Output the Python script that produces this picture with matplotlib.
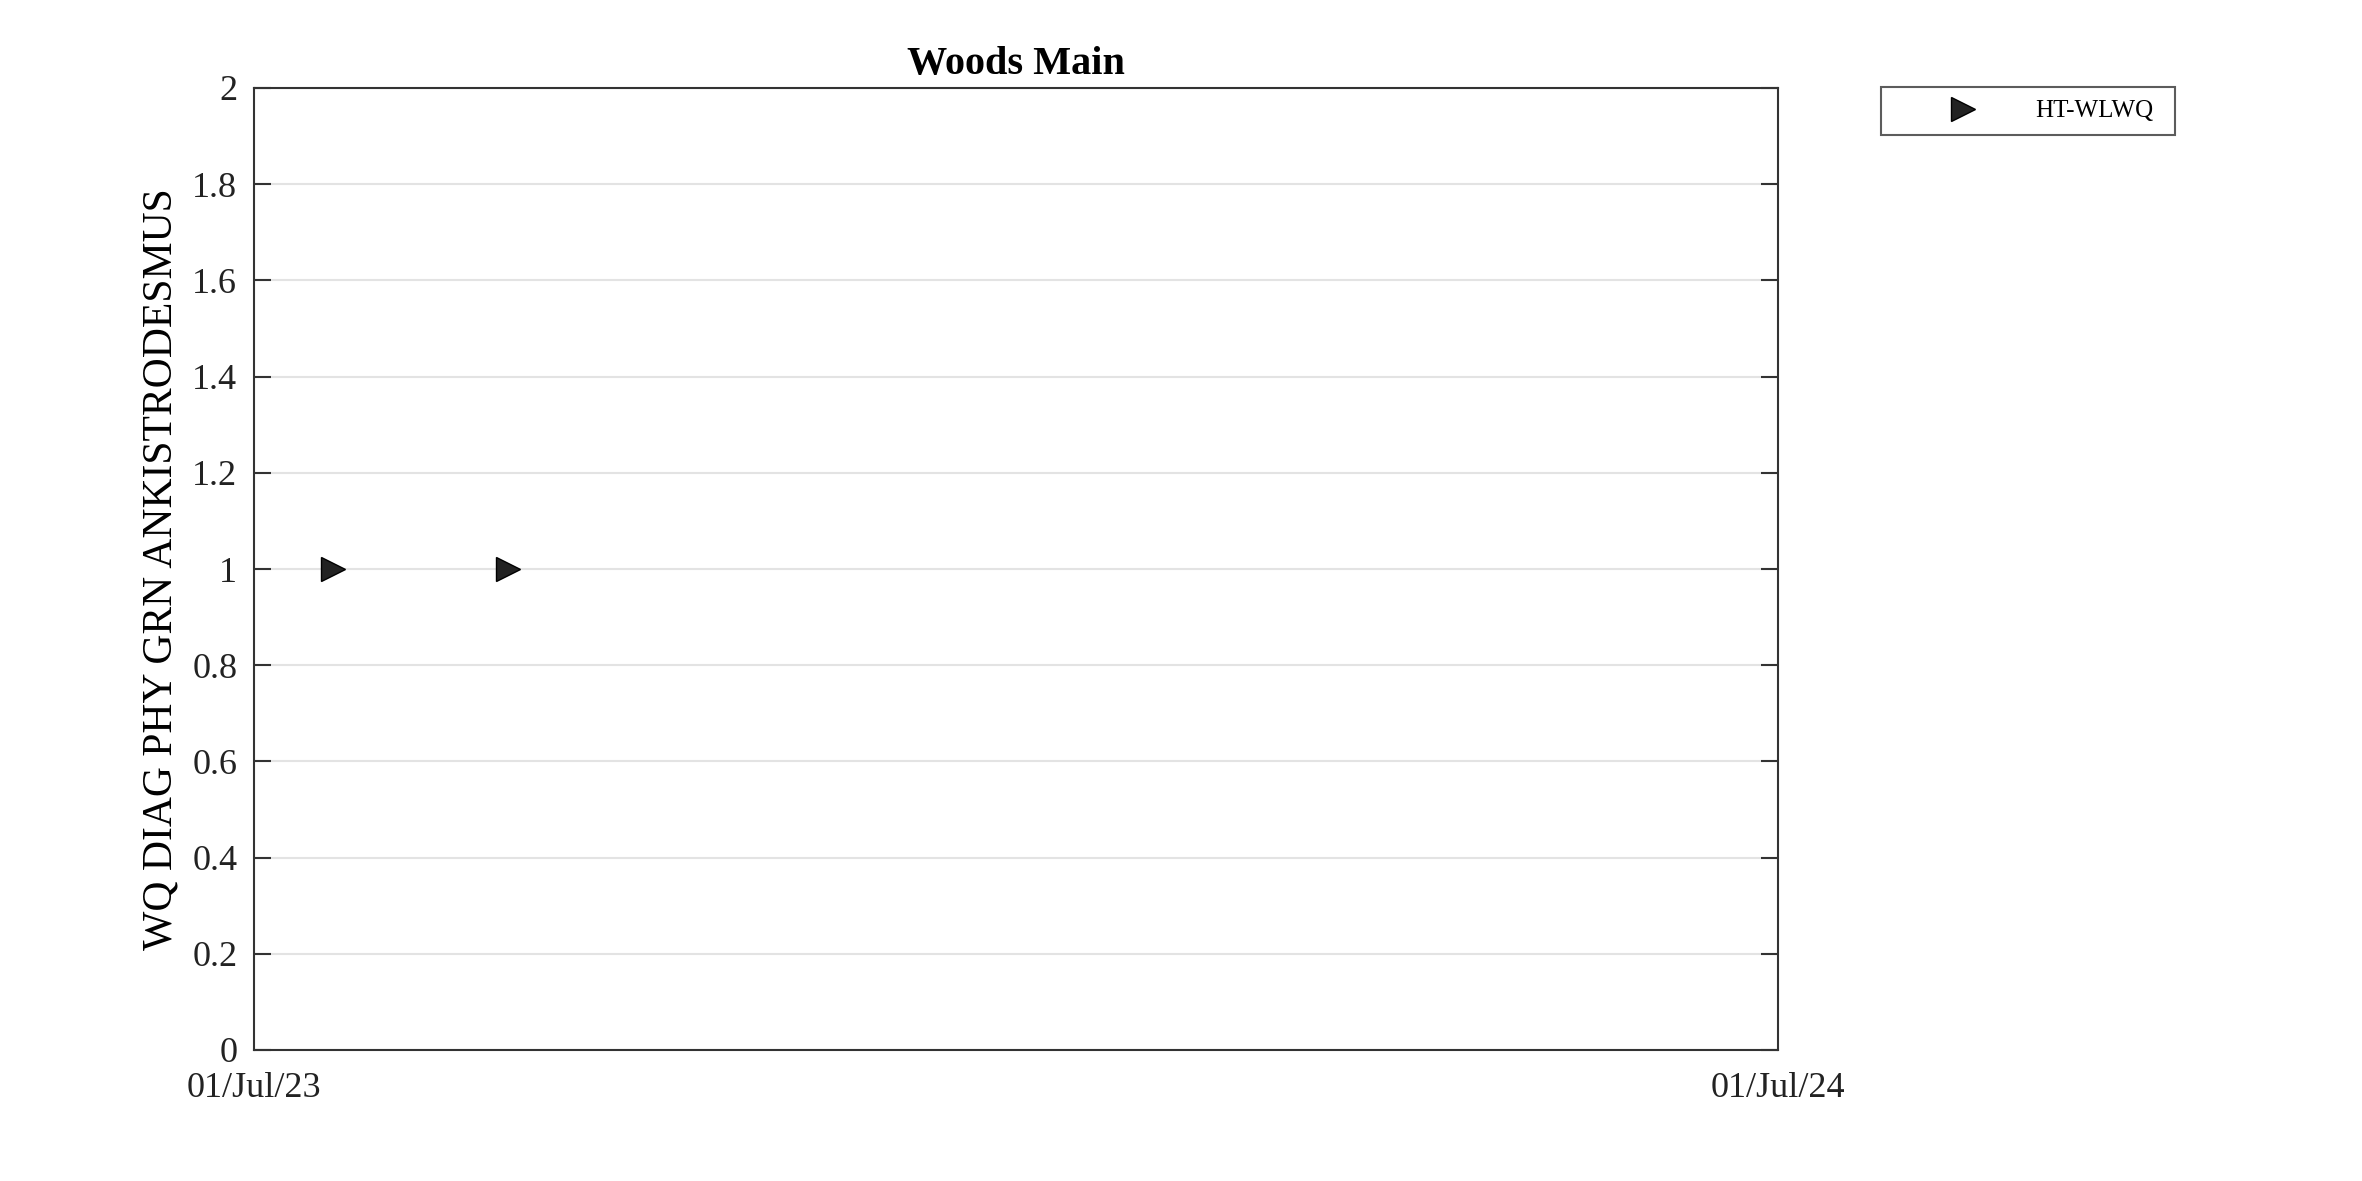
import numpy as np
import pandas as pd
import matplotlib
matplotlib.use("Agg")
import matplotlib.pyplot as plt
import matplotlib.dates as mdates

# data
dates = pd.to_datetime(["2023-07-20", "2023-08-31"])
values = [1, 1]
series_name = "HT-WLWQ"
title = "Woods Main"
ylabel = "WQ DIAG PHY GRN ANKISTRODESMUS"
xlim = pd.to_datetime(["2023-07-01", "2024-07-01"])
yticks = [0, 0.2, 0.4, 0.6, 0.8, 1, 1.2, 1.4, 1.6, 1.8, 2]
ytick_labels = ["0", "0.2", "0.4", "0.6", "0.8", "1", "1.2", "1.4", "1.6", "1.8", "2"]

plt.rcParams['font.family'] = ['Liberation Serif', 'DejaVu Serif']

W, H = 2362, 1181
fig = plt.figure(figsize=(W / 100, H / 100), dpi=100)
ax = fig.add_axes([254 / W, 1 - 1050 / H, (1777.5 - 254) / W, (1050 - 88) / H])

ax.plot(dates, values, linestyle='none', marker='>', markersize=17,
        markerfacecolor='#222222', markeredgecolor='black', markeredgewidth=1,
        label=series_name, zorder=3)

ax.set_xlim(xlim[0], xlim[1])
ax.set_ylim(0, 2)
ax.set_xticks(xlim)
ax.xaxis.set_major_formatter(mdates.DateFormatter('%d/%b/%y'))
ax.set_yticks(yticks)
ax.set_yticklabels(ytick_labels)

ax.grid(axis='y', color='#e3e3e3', linewidth=1.5, zorder=0)
ax.set_axisbelow(True)
for s in ax.spines.values():
    s.set_color('#333333')
    s.set_linewidth(1.5)

ax.tick_params(axis='y', direction='in', length=12, width=1.5, color='#333333',
               right=True, labelsize=26, pad=12, labelcolor='#222222')
ax.tick_params(axis='x', direction='in', length=0, labelsize=26, pad=16,
               labelcolor='#222222')

ax.set_title(title, fontsize=29, fontweight='bold', pad=10)
ax.set_ylabel(ylabel, fontsize=30)
ax.yaxis.set_label_coords(-0.048, 0.5)

leg = ax.legend(loc='upper left', bbox_to_anchor=(1881 / W, 1 - 134 / H, 294 / W, 47 / H),
                bbox_transform=fig.transFigure, mode='expand', fontsize=18,
                frameon=True, fancybox=False, edgecolor='#333333', borderpad=0.51,
                handlelength=5.54, handletextpad=0.1, borderaxespad=0)
leg.get_frame().set_linewidth(1.5)

fig.savefig("out.png", dpi=100)
